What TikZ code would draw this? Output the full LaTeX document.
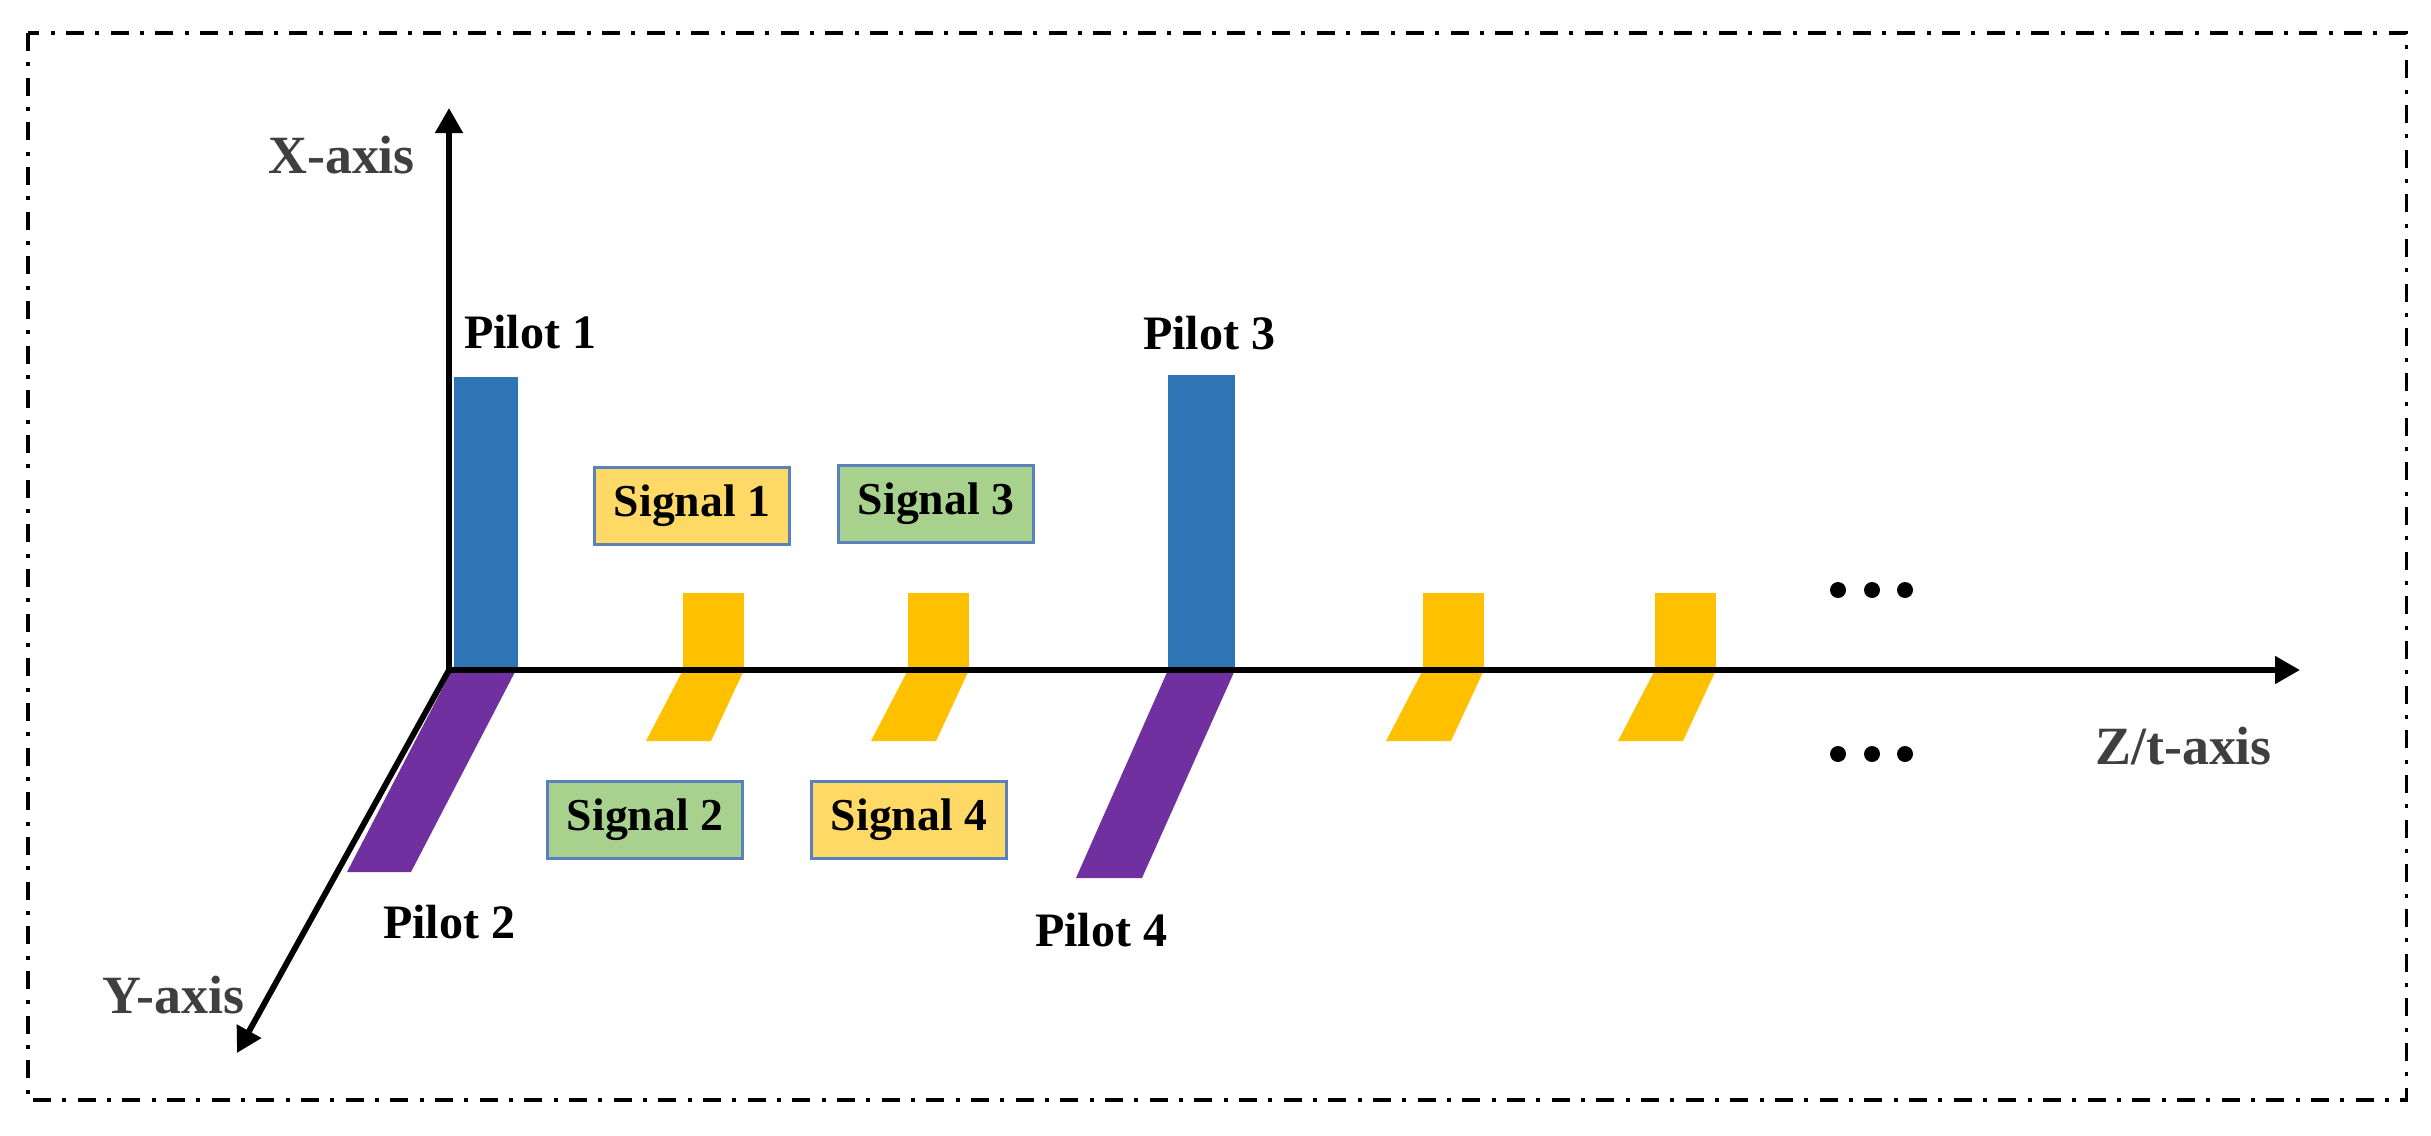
\documentclass[tikz,border=0pt]{standalone}
\usepackage{fontspec}
\setmainfont{Liberation Serif}
\usetikzlibrary{arrows.meta}
\definecolor{pblue}{HTML}{2E75B6}
\definecolor{ppurple}{HTML}{7030A0}
\definecolor{pyellow}{HTML}{FFC000}
\definecolor{sigyellow}{HTML}{FFD966}
\definecolor{siggreen}{HTML}{A9D18E}
\definecolor{sigedge}{HTML}{5B80BE}
\definecolor{axgray}{HTML}{3F3F3F}
\tikzset{
  axisline/.style={line width=5pt, -{Triangle[length=7.5mm,width=8mm]}},
  axislabel/.style={anchor=base west, inner sep=0pt, text=axgray, font=\bfseries\fontsize{46}{50}\selectfont},
  pilotlabel/.style={anchor=base west, inner sep=0pt, font=\bfseries\fontsize{41}{45}\selectfont},
  sigbox/.style={draw=sigedge, line width=2.4pt, minimum width=58.5mm, minimum height=23.1mm, inner sep=0pt, font=\bfseries\fontsize{39}{43}\selectfont},
  pilotbar/.style={fill=pblue, draw=none},
  pilotfoot/.style={fill=ppurple, draw=none},
  sigbar/.style={fill=pyellow, draw=none},
  frame/.style={line width=2.6pt, dash pattern=on 5.4mm off 3.4mm on 1.2mm off 3.4mm},
  dot/.style={circle, fill=black, minimum size=4.8mm, inner sep=0pt}
}
\begin{document}
\begin{tikzpicture}[x=0.3mm, y=-0.3mm]
\useasboundingbox (0,0) rectangle (2431,1135);
% frame
\draw[frame] (28,33) rectangle (2406,1100);
% pilot bars
\fill[pilotbar] (454,377) rectangle (518,670);
\fill[pilotbar] (1168,375) rectangle (1235,670);
\fill[pilotfoot] (452,670) -- (516,670) -- (411,872) -- (347,872) -- cycle;
\fill[pilotfoot] (1168,670) -- (1235,670) -- (1142,878) -- (1076,878) -- cycle;
% signal bars
\foreach \sx in {683,908,1423,1655}{
  \fill[sigbar] (\sx,593) rectangle ({\sx+61},670);
  \fill[sigbar] (\sx,670) -- ({\sx+61},670) -- ({\sx+28},741) -- ({\sx-37},741) -- cycle;
}
% axes
\coordinate (O) at (449,670);
\coordinate (Xt) at (449,108);
\coordinate (Yt) at (237,1053);
\coordinate (Zt) at (2300,670);
\draw[axisline] ([yshift=-2.5pt]O) -- (Xt);
\draw[axisline] (O) -- (Yt);
\draw[axisline] ([xshift=-2.5pt]O) -- (Zt);
% axis labels
\node[axislabel] (xl) at (268,173) {X-axis};
\node[axislabel] (yl) at (102,1013) {Y-axis};
\node[axislabel] (zl) at (2095,764) {Z/t-axis};
% pilot labels
\node[pilotlabel] (p1) at (464,348) {Pilot 1};
\node[pilotlabel] (p2) at (383,938) {Pilot 2};
\node[pilotlabel] (p3) at (1143,349) {Pilot 3};
\node[pilotlabel] (p4) at (1035,946) {Pilot 4};
% signal boxes
\node[sigbox, fill=sigyellow] (s1) at (692,506) {Signal 1};
\node[sigbox, fill=siggreen] (s3) at (936,504) {Signal 3};
\node[sigbox, fill=siggreen] (s2) at (645,820) {Signal 2};
\node[sigbox, fill=sigyellow] (s4) at (909,820) {Signal 4};
% dots
\foreach \dx [count=\i] in {1838,1872,1905}{
  \node[dot] (ua\i) at (\dx,590) {};
  \node[dot] (la\i) at (\dx,754) {};
}
\end{tikzpicture}
\end{document}
